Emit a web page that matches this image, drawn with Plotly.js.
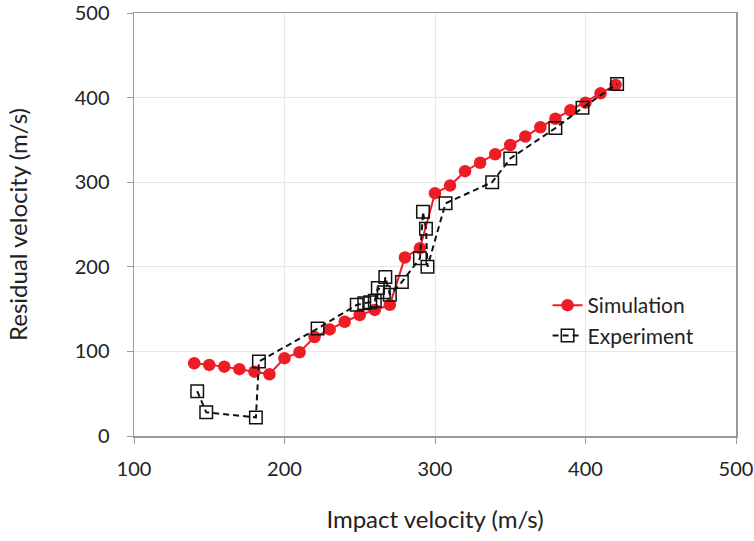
<!DOCTYPE html>
<html>
<head>
<meta charset="utf-8">
<script src="https://cdn.plot.ly/plotly-3.0.1.min.js"></script>
<style>html,body{margin:0;padding:0;background:#fff;}#chart{width:754px;height:541px;}</style>
</head>
<body>
<div id="chart"></div>
<script>
const simX = [140,150,160,170,180,190,200,210,220,230,240,250,260,270,280,290,300,310,320,330,340,350,360,370,380,390,400,410,420];
const simY = [86,84,82,79,76,73,92,99,117,126,135,143,149,155,211,222,287,296,313,323,333,344,354,365,375,385,394,405,415];

const expX = [142,148,181,183,222,248,253,257,260,262,266,267,270,278,290,292,294,295,307,338,350,380,398,421];
const expY = [53,28,22,88,127,155,157,158,160,175,170,188,167,182,210,265,245,200,275,300,328,364,388,416];

const xTicks = [100,200,300,400,500];
const yTicks = [0,100,200,300,400,500];

const FONT = 'Lato, "Open Sans", sans-serif';

const traces = [
  {
    x: simX, y: simY, name: 'Simulation', type: 'scatter', mode: 'lines+markers',
    line: {color: '#EE1C25', width: 2},
    marker: {symbol: 'circle', size: 12.5, color: '#EE1C25'}
  },
  {
    x: expX, y: expY, name: 'Experiment', type: 'scatter', mode: 'lines+markers',
    line: {color: '#111111', width: 2, dash: '6px,4px'},
    marker: {symbol: 'square-open', size: 12.5, color: '#111111', line: {width: 1.5, color: '#111111'}}
  }
];

const layout = {
  width: 754, height: 541,
  margin: {l: 134, r: 18, t: 13, b: 105},
  paper_bgcolor: '#ffffff', plot_bgcolor: '#ffffff',
  font: {family: FONT, size: 20, color: '#222222'},
  showlegend: true,
  legend: {
    x: 0.687, y: 0.357, xanchor: 'left', yanchor: 'top',
    bgcolor: 'rgba(255,255,255,0)', font: {size: 21, color: '#222'}
  },
  xaxis: {
    range: [100, 500], tickvals: xTicks, ticktext: xTicks.map(String),
    showgrid: true, gridcolor: '#E8E8E8', gridwidth: 1,
    showline: true, linecolor: '#9A9A9A', linewidth: 1.5, mirror: true,
    ticks: 'outside', ticklen: 6, tickcolor: '#9A9A9A', ticklabelstandoff: 8,
    zeroline: false,
    title: {text: 'Impact velocity (m/s)', font: {size: 24, color: '#222'}, standoff: 32}
  },
  yaxis: {
    range: [0, 500], tickvals: yTicks, ticktext: yTicks.map(String),
    showgrid: true, gridcolor: '#E8E8E8', gridwidth: 1,
    showline: true, linecolor: '#9A9A9A', linewidth: 1.5, mirror: true,
    ticks: 'outside', ticklen: 6, tickcolor: '#9A9A9A', ticklabelstandoff: 13,
    zeroline: false,
    title: {text: 'Residual velocity (m/s)', font: {size: 24, color: '#222'}, standoff: 40}
  }
};

Plotly.newPlot('chart', traces, layout, {displayModeBar: false, staticPlot: true});
</script>
</body>
</html>
